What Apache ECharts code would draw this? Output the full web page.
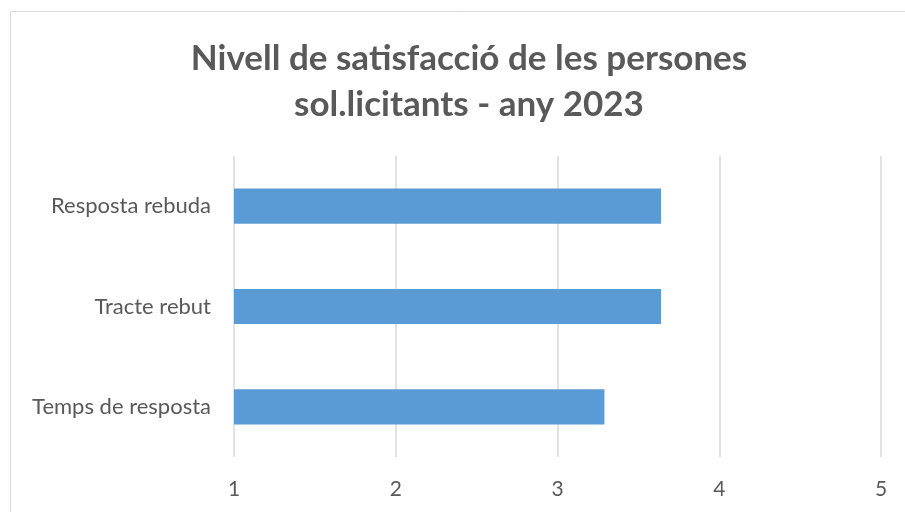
<!DOCTYPE html>
<html>
<head>
<meta charset="utf-8">
<script src="https://cdn.jsdelivr.net/npm/echarts@6/dist/echarts.min.js"></script>
<style>
  html, body { margin: 0; padding: 0; background: #fff; }
  #chart { width: 905px; height: 512px; }
</style>
</head>
<body>
<div id="chart"></div>
<script>
// category order bottom -> top, as the value axis draws it
const categories = ['Temps de resposta', 'Tracte rebut', 'Resposta rebuda']
const values = [3.29, 3.64, 3.64]
const ticks = [1, 2, 3, 4, 5]

const textColor = '#595959'
const gridColor = '#d9d9d9'

const chart = echarts.init(document.getElementById('chart'), null, { renderer: 'canvas' })

chart.setOption({
  backgroundColor: '#fff',
  animation: false,
  title: {
    text: 'Nivell de satisfacció de les persones\nsol.licitants - any 2023',
    left: 464,
    top: 31,
    textAlign: 'center',
    textStyle: {
      fontFamily: 'Lato',
      fontWeight: 'bold',
      fontSize: 35,
      lineHeight: 46,
      color: textColor
    }
  },
  graphic: [
    {
      type: 'rect',
      shape: { x: 10.5, y: 11.5, width: 920, height: 520 },
      style: { fill: 'none', stroke: gridColor, lineWidth: 1 },
      silent: true
    }
  ],
  grid: {
    left: 234,
    right: 24,
    top: 156,
    bottom: 55
  },
  xAxis: {
    type: 'value',
    min: ticks[0],
    max: ticks[ticks.length - 1],
    interval: 1,
    axisLine: { show: false },
    axisTick: { show: false },
    axisLabel: {
      color: textColor,
      fontFamily: 'Lato',
      fontSize: 21,
      margin: 22
    },
    splitLine: { lineStyle: { color: gridColor, width: 1.5 } }
  },
  yAxis: {
    type: 'category',
    data: categories,
    axisLine: { show: false },
    axisTick: { show: false },
    axisLabel: {
      color: textColor,
      fontFamily: 'Lato',
      fontSize: 22,
      margin: 23
    }
  },
  series: [
    {
      type: 'bar',
      data: values,
      barCategoryGap: '65%',
      itemStyle: { color: '#5b9bd5' }
    }
  ]
})
</script>
</body>
</html>
